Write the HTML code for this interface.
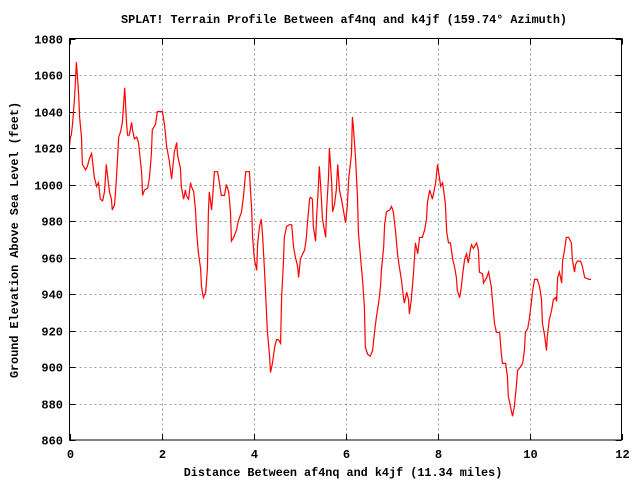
<!DOCTYPE html>
<html><head><meta charset="utf-8"><style>
body{margin:0;background:#fff;width:640px;height:480px;overflow:hidden}
svg text{font-family:"Liberation Mono","DejaVu Sans Mono",monospace;font-weight:bold;fill:#000}
</style></head><body>
<svg id="chart" width="640" height="480" xmlns="http://www.w3.org/2000/svg">
<rect width="640" height="480" fill="#fff"/>
<g id="grid"></g><g id="ticks"></g>
<path id="line" fill="none" stroke="#ff0000" stroke-width="1.2"/>
<rect x="69.5" y="38.5" width="552" height="401.5" fill="none" stroke="#000"/>
<text x="344" y="23" text-anchor="middle" font-size="11.8">SPLAT! Terrain Profile Between af4nq and k4jf (159.74° Azimuth)</text>
<text x="343" y="476" text-anchor="middle" font-size="11.8">Distance Between af4nq and k4jf (11.34 miles)</text>
<text transform="translate(18,240) rotate(-90)" text-anchor="middle" font-size="11.8">Ground Elevation Above Sea Level (feet)</text>
</svg>
<script>
const distances=[0,0.02,0.04,0.07,0.11,0.15,0.17,0.20,0.22,0.26,0.28,0.35,0.39,0.43,0.48,0.50,0.54,0.59,0.63,0.67,0.72,0.76,0.80,0.83,0.87,0.91,0.93,0.98,1.02,1.07,1.11,1.15,1.20,1.24,1.26,1.30,1.35,1.37,1.41,1.46,1.50,1.57,1.59,1.63,1.70,1.74,1.78,1.80,1.87,1.91,2.02,2.07,2.11,2.17,2.22,2.28,2.33,2.35,2.41,2.43,2.48,2.52,2.54,2.59,2.63,2.65,2.70,2.74,2.76,2.80,2.85,2.87,2.91,2.96,3.00,3.02,3.04,3.09,3.11,3.15,3.22,3.24,3.30,3.37,3.41,3.46,3.50,3.52,3.57,3.63,3.67,3.74,3.78,3.83,3.91,3.96,3.98,4.02,4.07,4.09,4.13,4.17,4.20,4.24,4.28,4.30,4.35,4.37,4.41,4.46,4.50,4.54,4.59,4.61,4.65,4.67,4.72,4.78,4.83,4.87,4.91,4.96,4.98,5.02,5.07,5.11,5.15,5.17,5.22,5.24,5.28,5.30,5.35,5.37,5.41,5.43,5.46,5.50,5.57,5.59,5.63,5.65,5.70,5.72,5.76,5.80,5.83,5.87,5.91,5.96,6.00,6.04,6.07,6.13,6.15,6.17,6.22,6.26,6.28,6.33,6.37,6.41,6.43,6.48,6.54,6.59,6.63,6.67,6.72,6.76,6.78,6.83,6.85,6.89,6.96,7.00,7.04,7.09,7.13,7.17,7.22,7.26,7.28,7.33,7.37,7.39,7.43,7.48,7.52,7.57,7.61,7.67,7.72,7.76,7.78,7.83,7.89,7.96,8.00,8.07,8.11,8.17,8.20,8.24,8.28,8.33,8.37,8.41,8.43,8.48,8.52,8.54,8.59,8.63,8.67,8.72,8.74,8.78,8.85,8.89,8.91,8.98,9.00,9.07,9.11,9.17,9.20,9.24,9.28,9.35,9.39,9.41,9.48,9.52,9.54,9.59,9.63,9.67,9.72,9.74,9.80,9.85,9.89,9.91,9.96,10.00,10.04,10.07,10.11,10.17,10.22,10.26,10.28,10.33,10.37,10.39,10.43,10.48,10.52,10.57,10.59,10.61,10.65,10.70,10.72,10.76,10.80,10.85,10.91,10.93,10.98,11.00,11.04,11.11,11.15,11.20,11.30,11.34];
const elevations=[1021,1026,1027,1034,1048,1067,1060,1049,1037,1026,1011,1008,1010,1014,1017,1013,1004,999,1001,992,991,996,1011,1004,996,992,986,989,1003,1026,1029,1034,1053,1034,1027,1027,1034,1030,1025,1026,1023,1006,994,997,998,1004,1017,1030,1033,1040,1040,1032,1021,1013,1003,1018,1023,1016,1009,999,992,997,994,992,1001,999,996,986,975,963,954,944,938,941,955,985,996,986,993,1007,1007,1004,994,994,1000,996,985,969,971,975,980,985,993,1007,1007,986,971,959,953,967,977,981,971,953,931,920,906,897,902,911,915,915,913,938,957,971,977,978,978,966,960,955,949,959,962,964,971,978,992,993,992,977,969,981,999,1010,999,981,971,986,1004,1020,1001,985,989,997,1011,997,992,985,979,988,1003,1017,1037,1032,1014,993,974,959,948,933,911,907,906,909,919,927,935,944,953,966,978,985,986,988,985,974,962,955,947,938,935,941,937,929,937,952,968,962,971,971,975,981,990,997,992,1001,1011,999,1001,990,974,968,968,959,955,949,942,938,944,949,959,962,957,965,967,965,968,964,952,951,946,949,952,944,935,924,919,919,907,902,902,895,884,878,873,878,891,898,900,902,909,919,921,927,935,942,948,948,944,937,924,917,909,917,926,931,937,938,936,949,952,946,958,964,971,971,968,959,952,956,958,958,955,949,948,948];
const xTicks=[0,2,4,6,8,10,12];
const yTicks=[860,880,900,920,940,960,980,1000,1020,1040,1060,1080];
const L=69.5,R=621.5,T=38.5,B=440;
const xS=v=>L+(v-0)/12*(R-L);
const yS=v=>B-(v-860)/220*(B-T);
const NS='http://www.w3.org/2000/svg';
const grid=document.getElementById('grid'),ticks=document.getElementById('ticks');
function mk(tag,attrs,parent){const e=document.createElementNS(NS,tag);for(const k in attrs)e.setAttribute(k,attrs[k]);parent.appendChild(e);return e;}
xTicks.forEach(t=>{const x=Math.round(xS(t))+0.5;
 if(t>0&&t<12){const g=mk('line',{x1:x,x2:x,y1:T,y2:B,stroke:'#999','stroke-dasharray':'2,3'},grid);
 
 }
 mk('line',{x1:x,x2:x,y1:B,y2:B-6,stroke:'#000'},ticks);
 mk('line',{x1:x,x2:x,y1:T,y2:T+6,stroke:'#000'},ticks);
 const tx=mk('text',{x:x,y:458,'text-anchor':'middle','font-size':'12'},ticks);tx.textContent=t;
 
 });
yTicks.forEach(t=>{const y=Math.round(yS(t))+0.5;
 if(t>860&&t<1080){const g=mk('line',{x1:L,x2:R,y1:y,y2:y,stroke:'#999','stroke-dasharray':'2,3'},grid);
 
 }
 mk('line',{x1:L,x2:L+6,y1:y,y2:y,stroke:'#000'},ticks);
 mk('line',{x1:R-6,x2:R,y1:y,y2:y,stroke:'#000'},ticks);
 const tx=mk('text',{x:63,y:y+4,'text-anchor':'end','font-size':'12'},ticks);tx.textContent=t;
 
 });
document.getElementById('line').setAttribute('d',distances.map((d,i)=>(i?'L':'M')+xS(d).toFixed(1)+','+yS(elevations[i]).toFixed(1)).join(''));
</script>
</body></html>
